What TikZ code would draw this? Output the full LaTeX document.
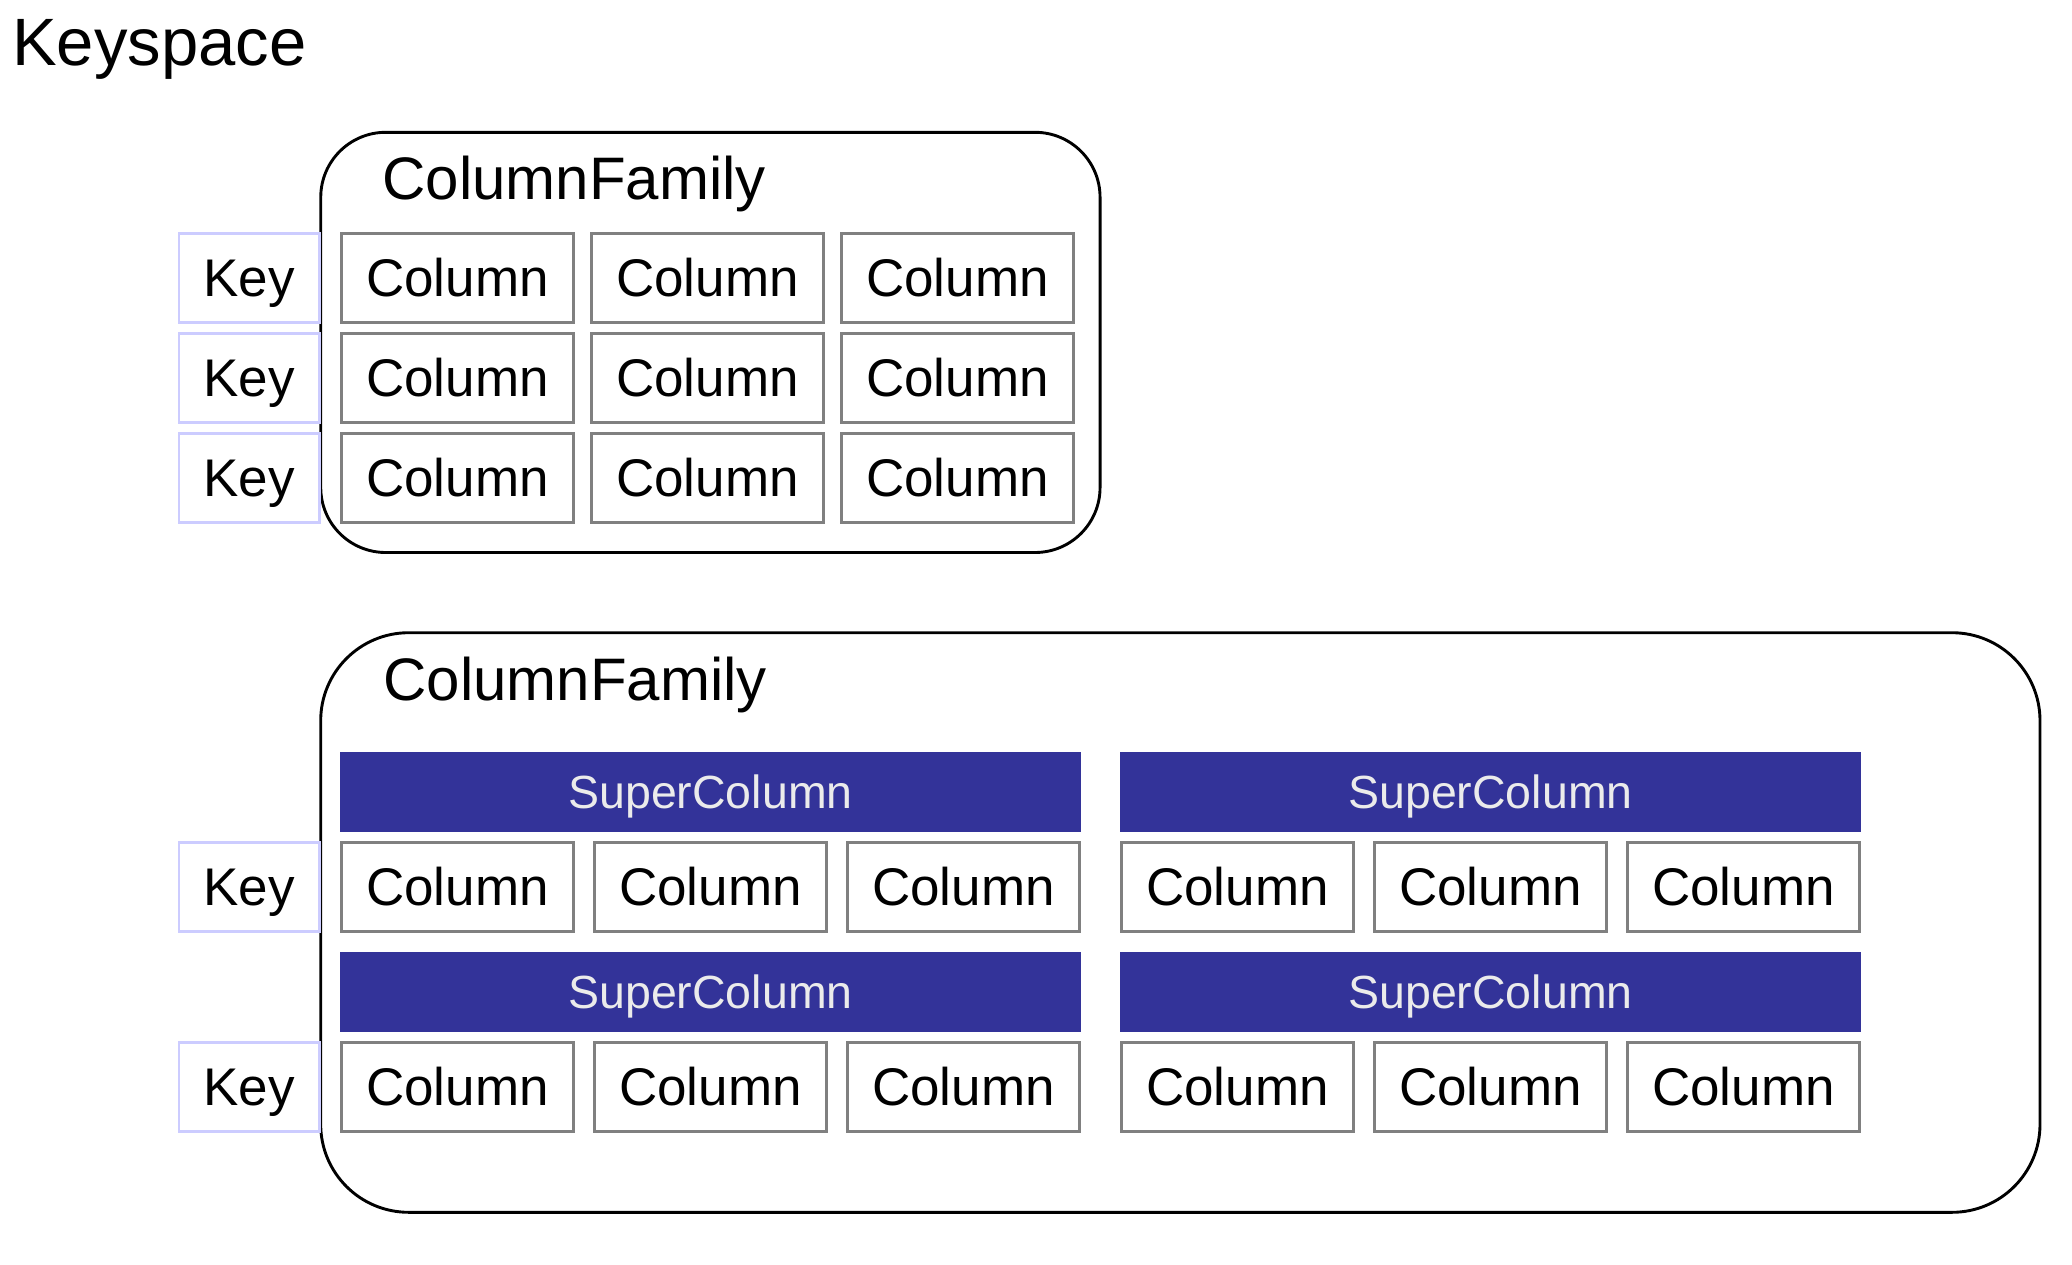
\documentclass[tikz,border=0pt]{standalone}
\usepackage{fontspec}
\setmainfont{Liberation Sans}
\definecolor{keyedge}{HTML}{CCCCFF}
\definecolor{coledge}{HTML}{808080}
\definecolor{superfill}{HTML}{333399}
\definecolor{supertext}{HTML}{EBEBEB}
\tikzset{
  family/.style={draw=black, line width=2.9pt, rounded corners=#1, inner sep=0pt},
  familylabel/.style={anchor=base west, inner sep=0pt, font=\fontsize{60}{62}\selectfont},
  cell/.style={line width=2.9pt, fill=white, inner sep=0pt,
    minimum height=88.6pt, font=\fontsize{53}{56}\selectfont,
    text height=38pt, text depth=0pt},
  keybox/.style={cell, draw=keyedge, minimum width=140.7pt},
  colbox/.style={cell, draw=coledge, minimum width=232.3pt},
  superbox/.style={fill=superfill, text=supertext, inner sep=0pt,
    minimum width=741pt, minimum height=79.5pt,
    font=\fontsize{46.5}{50}\selectfont, text height=33.3pt, text depth=0pt}
}
\begin{document}
\begin{tikzpicture}[x=1pt, y=-1pt]
\useasboundingbox (0,0) rectangle (2072,1264);

% Keyspace title
\node[anchor=base west, inner sep=0pt, font=\fontsize{67}{70}\selectfont] (ks) at (12,65) {Keyspace};

% First column family: plain columns
\node[family=65pt, minimum width=779.3pt, minimum height=420.2pt] (cf1) at (710.4,342.4) {};
\node[familylabel] (cf1label) at ([xshift=63pt, yshift=-68.7pt]cf1.north west) {ColumnFamily};
\foreach \r in {1,2,3} {
  \pgfmathsetmacro{\yy}{177.8+100*\r}
  \node[keybox] (k1\r) at (249.3,\yy) {Key};
  \foreach \c in {1,2,3} {
    \pgfmathsetmacro{\xx}{207.5+250*\c}
    \node[colbox] (c1\r\c) at (\xx,\yy) {Column};
  }
}

% Second column family: super columns
\node[family=88pt, minimum width=1719.3pt, minimum height=579.6pt] (cf2) at (1180.35,922.5) {};
\node[familylabel] (cf2label) at ([xshift=64pt, yshift=-69.3pt]cf2.north west) {ColumnFamily};
\foreach \r in {1,2} {
  \pgfmathsetmacro{\ys}{592+200*\r}
  \pgfmathsetmacro{\yy}{686.8+200*\r}
  \node[keybox] (k2\r) at (249.3,\yy) {Key};
  \foreach \g in {1,2} {
    \pgfmathsetmacro{\xs}{710.5+780*(\g-1)}
    \node[superbox] (s\r\g) at (\xs,\ys) {SuperColumn};
    \foreach \c in {1,2,3} {
      \pgfmathsetmacro{\xx}{\xs+253*(\c-2)}
      \node[colbox] (d\r\g\c) at (\xx,\yy) {Column};
    }
  }
}
\end{tikzpicture}
\end{document}
